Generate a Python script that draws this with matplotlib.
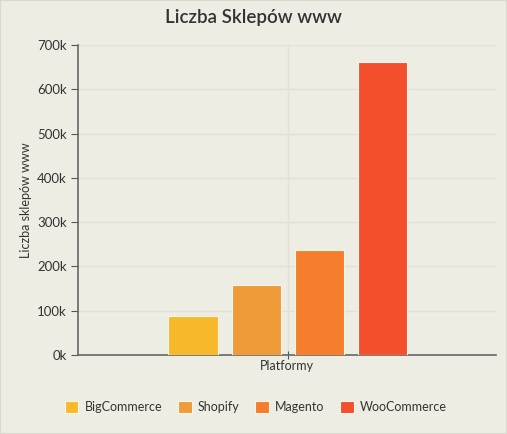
import matplotlib
matplotlib.use("Agg")
import matplotlib.pyplot as plt
from matplotlib.ticker import FuncFormatter, MultipleLocator
import numpy as np

title = "Liczba Sklepów www"
ylabel = "Liczba sklepów www"
xlabel = "Platformy"
series = ["BigCommerce", "Shopify", "Magento", "WooCommerce"]
values = [88000, 159000, 238000, 662000]
colors = ["#F7B92B", "#EF9B3A", "#F57D2C", "#F44F2D"]

bg = "#EEEDE4"
txt = "#333333"
plt.rcParams['font.family'] = ['Lato', 'DejaVu Sans']

fig = plt.figure(figsize=(5.07, 4.34), dpi=100, facecolor=bg)
ax = fig.add_axes([78/507, 79/434, 418/507, 310/434], facecolor=bg)

n = len(series)
offsets = np.arange(n) - (n - 1) / 2
bars = []
for i, (s, v, c) in enumerate(zip(series, values, colors)):
    b = ax.bar(offsets[i], v, width=0.79, color=c, edgecolor="#FAF6EA", linewidth=0.8, label=s, zorder=3)
    bars.append(b)

ax.set_xlim(-3.33, 3.30)
ax.set_ylim(0, 700000)
ax.yaxis.set_major_locator(MultipleLocator(100000))
ax.yaxis.set_major_formatter(FuncFormatter(lambda v, p: f"{int(v/1000)}k"))
ax.set_xticks([0])
ax.set_xticklabels([""])
ax.tick_params(axis='x', direction='inout', length=6, color="#555555")
ax.tick_params(axis='y', direction='out', length=5, color="#555555", labelcolor=txt, labelsize=9.5, pad=3)

ax.grid(True, color="#E2E1D6", linewidth=1, zorder=0)
for sp in ["top", "right"]:
    ax.spines[sp].set_visible(False)
for sp in ["left", "bottom"]:
    ax.spines[sp].set_color("#666666")
    ax.spines[sp].set_linewidth(1.2)

ax.set_ylabel(ylabel, color=txt, fontsize=9, labelpad=4)
ax.set_xlabel(xlabel, color=txt, fontsize=9, labelpad=-3)
fig.text(253/507, 1 - 18/434, title, ha="center", va="center", fontsize=13.5, color=txt, fontweight="semibold")

fig.legend(handles=[b[0] for b in bars], labels=series, loc="center", bbox_to_anchor=(256/507, 1 - 407/434),
           ncol=4, frameon=False, fontsize=9, handlelength=1.1, handleheight=1.1, handletextpad=0.5,
           columnspacing=1.25, labelcolor=txt)

fig.patches.append(plt.Rectangle((0, 0), 1, 1, transform=fig.transFigure, fill=False,
                                 edgecolor="#DAD9CF", linewidth=1.5))

fig.savefig("out.png", dpi=100, facecolor=bg)
